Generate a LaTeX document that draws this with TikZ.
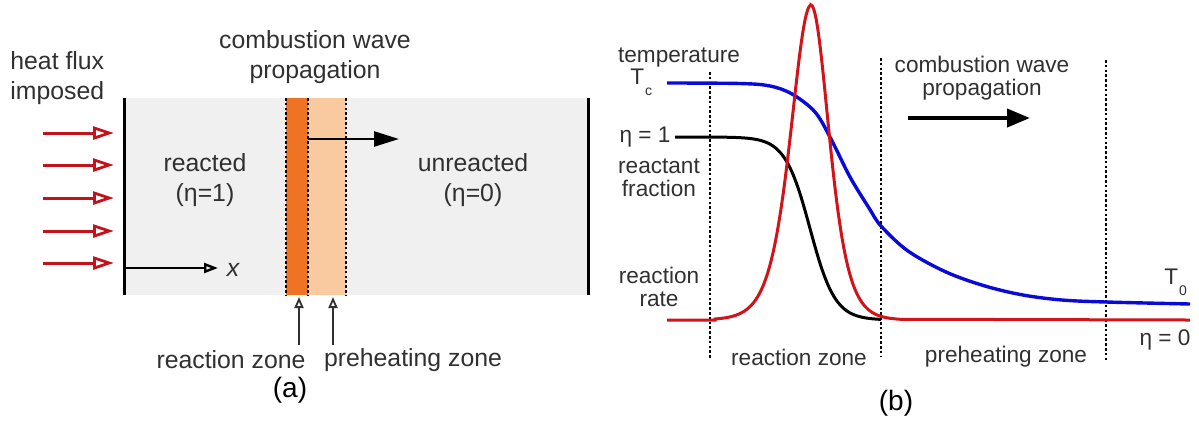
\documentclass[tikz,border=0pt]{standalone}
\usepackage{fontspec}
\setmainfont{Liberation Sans}
\usetikzlibrary{arrows.meta}
\definecolor{txtc}{HTML}{303030}
\definecolor{bgray}{HTML}{F0F0F0}
\definecolor{odark}{HTML}{EE7322}
\definecolor{olight}{HTML}{F9C9A0}
\definecolor{hred}{HTML}{C4121C}
\definecolor{cred}{HTML}{D0141A}
\definecolor{cblue}{HTML}{0A0AD8}
\begin{document}
\begin{tikzpicture}[x=0.5pt,y=-0.5pt,
  txtA/.style={font=\fontsize{12.4}{15}\selectfont, text=txtc, inner sep=0pt, align=center},
  txtB/.style={font=\fontsize{11.3}{11.6}\selectfont, text=txtc, inner sep=0pt, align=center},
  capt/.style={font=\fontsize{14}{16}\selectfont, text=black, inner sep=0pt},
  wall/.style={line width=1.5pt, black},
  dotline/.style={line width=1.4pt, black, dash pattern=on 1.3pt off 1.1pt},
  heat/.style={line width=1.5pt, hred, -{Triangle[open, length=10.5pt, width=6.5pt, line width=1.4pt]}},
  xax/.style={line width=1.4pt, black, -{Triangle[open, length=7pt, width=5pt, line width=1.2pt]}},
  uparr/.style={line width=0.9pt, txtc, -{Triangle[open, length=5.5pt, width=4.5pt, line width=0.9pt]}},
  bigarr/.style={line width=1.3pt, black, -{Triangle[length=12.5pt, width=7.5pt]}},
  bigarrB/.style={line width=2pt, black, -{Triangle[length=11.5pt, width=9pt]}},
  bcurve/.style={line width=1.7pt, cblue},
  kcurve/.style={line width=1.5pt, black},
  rcurve/.style={line width=1.5pt, cred}]
\useasboundingbox (0,0) rectangle (1199,425);
% ---------- panel (a)
\fill[bgray] (124,98) rectangle (588,295);
\fill[odark] (286,98) rectangle (308,295);
\fill[olight] (308,98) rectangle (346,295);
\draw[dotline] (286,98) -- (286,295);
\draw[dotline] (308,98) -- (308,295);
\draw[dotline] (346,98) -- (346,295);
\draw[wall] (124,98) -- (124,295);
\draw[wall] (588,98) -- (588,295);
\node[txtA, anchor=west, align=left] (heat) at (10,78) {heat flux\\imposed};
\node[txtA] (cwA) at (315,57) {combustion wave\\propagation};
\node[txtA] (reacted) at (205,180) {reacted\\(η=1)};
\node[txtA] (unreacted) at (473,180) {unreacted\\(η=0)};
\node[txtA] (rz) at (231,360) {reaction zone};
\node[txtA] (pz) at (413,360) {preheating zone};
\node[capt] (a) at (290,390) {(a)};
\foreach \y [count=\i] in {133,165,198,231,263} {
  \coordinate (hs\i) at (43,\y);
  \coordinate (he\i) at (114,\y);
  \draw[heat] (hs\i) -- (he\i);
}
\coordinate (o) at (124,268);
\node[txtA, font=\fontsize{12.4}{15}\selectfont\itshape] (xl) at (233,270) {x};
\coordinate (xe) at (218,268);
\draw[xax] (o) -- (xe);
\coordinate (wa) at (308,139);
\coordinate (wb) at (399,139);
\draw[bigarr] (wa) -- (wb);
\coordinate (rzt) at (299,297);
\coordinate (pzt) at (333,297);
\draw[uparr] (rzt |- 0,345) -- (rzt);
\draw[uparr] (pzt |- 0,345) -- (pzt);
% ---------- panel (b)
\draw[dotline] (710,72) -- (710,358);
\draw[dotline] (881,58) -- (881,356);
\draw[dotline] (1106,60) -- (1106,360);
\node[txtB] (temp) at (679,58) {temperature};
\node[txtB, anchor=west] (Tc) at (630,82) {T\kern0.5pt\raisebox{-5.5pt}{\fontsize{7}{7}\selectfont c}};
\node[txtB] (eta1) at (645,137) {η = 1};
\node[txtB] (reactant) at (659,178) {reactant\\fraction};
\node[txtB] (rrate) at (659,287) {reaction\\rate};
\node[txtB] (rzB) at (799,357) {reaction zone};
\node[txtB] (pzB) at (1006,357) {preheating zone};
\node[txtB] (cwB) at (982,78) {combustion wave\\propagation};
\node[txtB, anchor=west] (T0) at (1164,282) {T\kern0.5pt\raisebox{-5.5pt}{\fontsize{7}{7}\selectfont 0}};
\node[txtB] (eta0) at (1165,340) {η = 0};
\node[capt] (b) at (896,403) {(b)};
\coordinate (pa) at (908,118);
\coordinate (pb) at (1030,118);
\draw[bigarrB] (pa) -- (pb);
% curves
\draw[kcurve] (675,137) -- (700,137.03)
  -- plot[domain=700:881, samples=120] (\x, {137+183/(1+exp(-(\x-810)/12.5))});
\draw[bcurve] plot[smooth, tension=0.55] coordinates {(667,83) (740,83.5) (770,86) (792,94) (815,112) (831,139) (850,177) (869,208) (881,226) (908,251) (946,272) (985,286) (1023,295) (1062,300) (1106,302) (1190,304)};
\draw[rcurve] (667,320) -- (715,320)
  -- plot[domain=715:811, samples=80] (\x, {320-315/(cosh((\x-811)/27))^2})
  -- plot[domain=811:900, samples=70] (\x, {320-315/(cosh((\x-811)/24))^2})
  -- (1190,320);
\end{tikzpicture}
\end{document}
